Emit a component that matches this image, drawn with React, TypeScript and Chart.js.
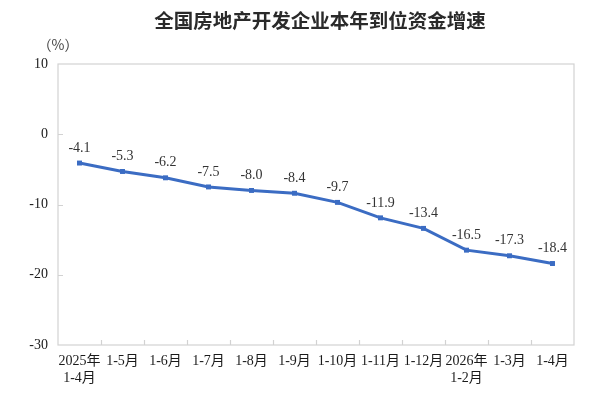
import React, { useEffect, useRef } from "react";
import { Chart, registerables } from "chart.js";

Chart.register(...registerables);

const TITLE = "全国房地产开发企业本年到位资金增速";
const UNIT = "（%）";
const CATEGORIES: (string | string[])[] = [
  ["2025年", "1-4月"],
  "1-5月",
  "1-6月",
  "1-7月",
  "1-8月",
  "1-9月",
  "1-10月",
  "1-11月",
  "1-12月",
  ["2026年", "1-2月"],
  "1-3月",
  "1-4月",
];
const VALUES = [-4.1, -5.3, -6.2, -7.5, -8.0, -8.4, -9.7, -11.9, -13.4, -16.5, -17.3, -18.4];
const Y_MIN = -30;
const Y_MAX = 10;
const Y_STEP = 10;

const SERIF = "'Liberation Serif', 'Times New Roman', 'Noto Sans CJK SC', serif";
const LINE_COLOR = "#3B6CC3";
const BOX_COLOR = "#d2d2d2";

const decorPlugin = {
  id: "decor",
  afterDraw(chart: any) {
    const { ctx, chartArea } = chart;
    const { left, right, top, bottom } = chartArea;
    ctx.save();
    // title
    ctx.fillStyle = "#2a2a2a";
    ctx.font = "600 19.5px 'Noto Sans CJK SC', sans-serif";
    ctx.textAlign = "center";
    ctx.textBaseline = "middle";
    ctx.fillText(TITLE, 320, 21);
    // unit
    ctx.font = "14px 'Noto Sans CJK SC', sans-serif";
    ctx.fillStyle = "#444";
    ctx.fillText(UNIT, 58, 45);
    // box
    ctx.strokeStyle = BOX_COLOR;
    ctx.lineWidth = 1.2;
    ctx.strokeRect(left, top, right - left, bottom - top);
    // inward tick marks
    const xs = chart.scales.x;
    const ys = chart.scales.y;
    ctx.beginPath();
    const n = VALUES.length;
    for (let i = 1; i < n; i++) {
      const x = (xs.getPixelForValue(i - 1) + xs.getPixelForValue(i)) / 2;
      ctx.moveTo(Math.round(x) + 0.5, bottom);
      ctx.lineTo(Math.round(x) + 0.5, bottom - 5);
    }
    for (let v = Y_MIN + Y_STEP; v < Y_MAX; v += Y_STEP) {
      const y = ys.getPixelForValue(v);
      ctx.moveTo(left, Math.round(y) + 0.5);
      ctx.lineTo(left + 5, Math.round(y) + 0.5);
    }
    ctx.stroke();
    // data labels
    ctx.fillStyle = "#333";
    ctx.font = "14px " + SERIF;
    ctx.textAlign = "center";
    ctx.textBaseline = "middle";
    const meta = chart.getDatasetMeta(0);
    meta.data.forEach((pt: any, i: number) => {
      ctx.fillText(VALUES[i].toFixed(1), pt.x, pt.y - 15);
    });
    ctx.restore();
  },
};

export default function App() {
  const ref = useRef<HTMLCanvasElement | null>(null);
  useEffect(() => {
    document.body.style.margin = "0";
    const chart = new Chart(ref.current as HTMLCanvasElement, {
      type: "line",
      data: {
        labels: CATEGORIES as any,
        datasets: [
          {
            data: VALUES,
            borderColor: LINE_COLOR,
            backgroundColor: LINE_COLOR,
            borderWidth: 3,
            pointStyle: "rect",
            pointRadius: 3.5,
            pointBorderWidth: 0,
            tension: 0,
          },
        ],
      },
      options: {
        animation: false,
        responsive: false,
        devicePixelRatio: 1,
        layout: { padding: { top: 64, right: 26, left: 0, bottom: 0 } },
        plugins: {
          legend: { display: false },
          title: { display: false },
          tooltip: { enabled: false },
        },
        scales: {
          x: {
            offset: true,
            grid: { display: false },
            border: { display: false },
            ticks: {
              padding: 0,
              autoSkip: false,
              maxRotation: 0,
              color: "#1a1a1a",
              font: { family: SERIF, size: 14 },
            },
            afterFit(scale: any) {
              scale.height = 58;
            },
          },
          y: {
            min: Y_MIN,
            max: Y_MAX,
            grid: { display: false },
            border: { display: false },
            ticks: {
              stepSize: Y_STEP,
              padding: 2,
              color: "#1a1a1a",
              font: { family: SERIF, size: 14 },
            },
            afterFit(scale: any) {
              scale.width = 58;
            },
          },
        },
      },
      plugins: [decorPlugin],
    });
    return () => chart.destroy();
  }, []);
  return (
    <div style={{ position: "absolute", left: 0, top: 0, width: 600, height: 403, background: "#fff" }}>
      <canvas ref={ref} width={600} height={403} />
    </div>
  );
}
